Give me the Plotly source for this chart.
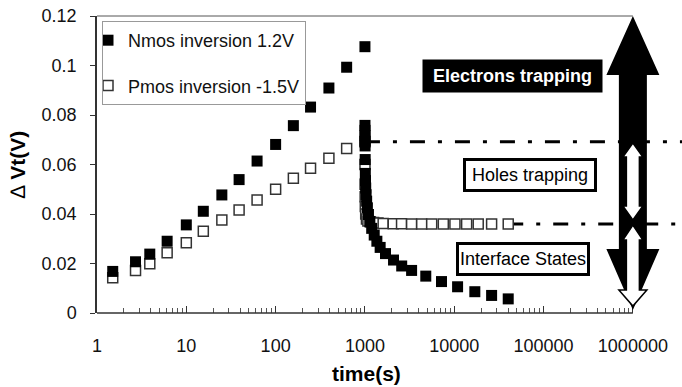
import math
import plotly.graph_objects as go

# ---------------- data ----------------
stress_t = [1.5, 2.7, 3.9, 6.1, 10, 15.5, 25, 39, 62, 100, 158, 246, 395, 624, 1000]
nmos_stress = [0.0168, 0.0207, 0.0238, 0.0290, 0.0356, 0.0411, 0.0477, 0.0539, 0.0614,
               0.0681, 0.0757, 0.0832, 0.0909, 0.0993, 0.1076]
pmos_stress = [0.0142, 0.0172, 0.0199, 0.0243, 0.0284, 0.0330, 0.0376, 0.0416, 0.0457,
               0.0500, 0.0544, 0.0585, 0.0625, 0.0665, 0.0692]

nmos_rec_t = [1001, 1001.5, 1002, 1003, 1004, 1006, 1010, 1015, 1020, 1030, 1045, 1065,
              1095, 1135, 1190, 1270, 1360, 1480, 1700, 2090, 2580, 3330, 4800, 7200,
              10900, 17000, 26200, 40200]
nmos_rec = [0.0758, 0.0738, 0.0717, 0.0695, 0.0675, 0.0620, 0.0564, 0.0535, 0.0505,
            0.0478, 0.0452, 0.0425, 0.0398, 0.0370, 0.0342, 0.0315, 0.0290, 0.0265,
            0.0240, 0.0214, 0.0190, 0.0172, 0.0149, 0.0127, 0.0106, 0.0086, 0.0071, 0.0057]

pmos_rec_t = [1001, 1003, 1006, 1010, 1020, 1040, 1080, 1150, 1250, 1400, 1600, 2075,
              2570, 3330, 4320, 5590, 7540, 10180, 13760, 18550, 26200, 40200]
pmos_rec = [0.0600, 0.0520, 0.0470, 0.0430, 0.0400, 0.0380, 0.0372, 0.0368, 0.0366,
            0.0364, 0.0362, 0.0361, 0.0361, 0.0360, 0.0360, 0.0360, 0.0360, 0.0360,
            0.0360, 0.0360, 0.0360, 0.0360]

x_tickvals = [1, 10, 100, 1000, 10000, 100000, 1000000]
x_ticktext = ["1", "10", "100", "1000", "10000", "100000", "1000000"]
y_tickvals = [0, 0.02, 0.04, 0.06, 0.08, 0.1, 0.12]
y_ticktext = ["0", "0.02", "0.04", "0.06", "0.08", "0.1", "0.12"]

series_names = ["Nmos inversion 1.2V", "Pmos inversion -1.5V"]
labels = ["Electrons trapping", "Holes trapping", "Interface States"]

# ---------------- layout geometry ----------------
W, H = 682, 387
PL, PT, PW, PH = 97, 16, 585, 297
XMAX = 6.55  # log10 of right edge of plotting area
FONT = "Liberation Sans, Arial, sans-serif"


def px(xp):
    return (xp - PL) / PW


def py(yp):
    return (PT + PH - yp) / PH


fig = go.Figure()

pmos_t = stress_t + pmos_rec_t
pmos_v = pmos_stress + pmos_rec
nmos_t = stress_t + nmos_rec_t
nmos_v = nmos_stress + nmos_rec

# dash-dot reference lines (from the end of stress and end of recovery of Pmos)
xend = 10 ** XMAX
for t0, v0 in [(stress_t[-1], pmos_stress[-1]), (pmos_rec_t[-1], pmos_rec[-1])]:
    fig.add_trace(go.Scatter(x=[t0, xend], y=[v0, v0], mode="lines", showlegend=False,
                             line=dict(color="black", width=3, dash="15px,13px,4px,13px"),
                             hoverinfo="skip"))

fig.add_trace(go.Scatter(x=pmos_t, y=pmos_v, mode="markers", name=series_names[1],
                         legendgroup="p", legendrank=2,
                         marker=dict(symbol="square", size=10, color="white",
                                     line=dict(color="#333333", width=1.5))))
fig.add_trace(go.Scatter(x=nmos_t, y=nmos_v, mode="markers", name=series_names[0],
                         legendgroup="n", legendrank=1,
                         marker=dict(symbol="square", size=11, color="black",
                                     line=dict(color="black", width=0))))

# ---------------- arrows ----------------


def double_arrow(cx, yt, yb, sw, hw, hl, hwb, hlb):
    pts = [(cx, yt), (cx + hw, yt + hl), (cx + sw, yt + hl), (cx + sw, yb - hlb),
           (cx + hwb, yb - hlb), (cx, yb), (cx - hwb, yb - hlb), (cx - sw, yb - hlb),
           (cx - sw, yt + hl), (cx - hw, yt + hl)]
    return "M " + " L ".join(f"{px(a):.5f},{py(b):.5f}" for a, b in pts) + " Z"


shapes = []
cx = PL + PW * 6 / XMAX
shapes.append(dict(type="path", xref="paper", yref="paper",
                   path=double_arrow(cx, 16, 310, 14, 26.5, 59, 26.5, 61),
                   fillcolor="black", line=dict(width=0)))
shapes.append(dict(type="path", xref="paper", yref="paper",
                   path=double_arrow(cx, 143, 220, 6.5, 10, 14, 10, 14),
                   fillcolor="white", line=dict(color="black", width=1.5)))
shapes.append(dict(type="path", xref="paper", yref="paper",
                   path=double_arrow(cx, 225, 306, 6.5, 10, 15, 14, 16),
                   fillcolor="white", line=dict(color="black", width=1.5)))

# frame: bottom axis line and top line up to 10^6
xr = math.log10(x_tickvals[-1]) / XMAX
shapes.append(dict(type="line", xref="paper", yref="paper", x0=0, x1=xr, y0=0, y1=0,
                   line=dict(color="#333333", width=1.5)))
shapes.append(dict(type="line", xref="paper", yref="paper", x0=0, x1=xr, y0=1, y1=1,
                   line=dict(color="#555555", width=1)))

annotations = [
    dict(text="<b>" + labels[0] + "</b>", x=px(512.5), y=py(76), xref="paper", yref="paper",
         showarrow=False, font=dict(family=FONT, size=18, color="white"),
         bgcolor="black", width=175, height=28, borderpad=2, xanchor="center", yanchor="middle"),
    dict(text=labels[1], x=px(529.5), y=py(175.5), xref="paper", yref="paper",
         showarrow=False, font=dict(family=FONT, size=18, color="black"),
         bgcolor="white", bordercolor="black", borderwidth=3, width=126, height=26,
         borderpad=1, xanchor="center", yanchor="middle"),
    dict(text=labels[2], x=px(522.5), y=py(259), xref="paper", yref="paper",
         showarrow=False, font=dict(family=FONT, size=18, color="black"),
         bgcolor="white", bordercolor="black", borderwidth=3, width=126, height=26,
         borderpad=1, xanchor="center", yanchor="middle"),
    dict(text="<b>time(s)</b>", x=px(366), y=py(373), xref="paper", yref="paper",
         showarrow=False, font=dict(family=FONT, size=21, color="black"),
         xanchor="center", yanchor="middle"),
]

minor_vals = [m * 10 ** d for d in range(6) for m in range(2, 10)]

fig.update_layout(
    width=W, height=H,
    margin=dict(l=PL, r=W - PL - PW, t=PT, b=H - PT - PH),
    paper_bgcolor="white", plot_bgcolor="white",
    font=dict(family=FONT, size=18, color="#111111"),
    shapes=shapes, annotations=annotations,
    showlegend=True,
    legend=dict(x=px(102), y=py(21), xanchor="left", yanchor="top",
                bgcolor="white", bordercolor="#999999", borderwidth=1,
                font=dict(family=FONT, size=18, color="#111111"),
                tracegroupgap=19, itemwidth=30, indentation=-15),
    xaxis=dict(type="log", range=[0, XMAX], showgrid=False, zeroline=False,
               showline=False, tickmode="array", tickvals=x_tickvals, ticktext=x_ticktext,
               ticks="inside", ticklen=7, tickwidth=1, tickcolor="#333333",
               ticklabelstandoff=20,
               tickfont=dict(family=FONT, size=18, color="#111111"),
               minor=dict(tickmode="array", tickvals=minor_vals, ticks="inside",
                          ticklen=5, tickwidth=1, tickcolor="#555555", showgrid=False)),
    yaxis=dict(range=[0, 0.12], showgrid=False, zeroline=False, showline=True,
               linecolor="#333333", linewidth=1.5, tickmode="array",
               tickvals=y_tickvals, ticktext=y_ticktext, ticks="outside", ticklen=5,
               tickcolor="#333333", ticklabelstandoff=10,
               tickfont=dict(family=FONT, size=18, color="#111111"),
               title=dict(text="∆ <b>Vt(V)</b>", standoff=10,
                          font=dict(family=FONT, size=21, color="black"))),
)

fig.write_html("out.html")
